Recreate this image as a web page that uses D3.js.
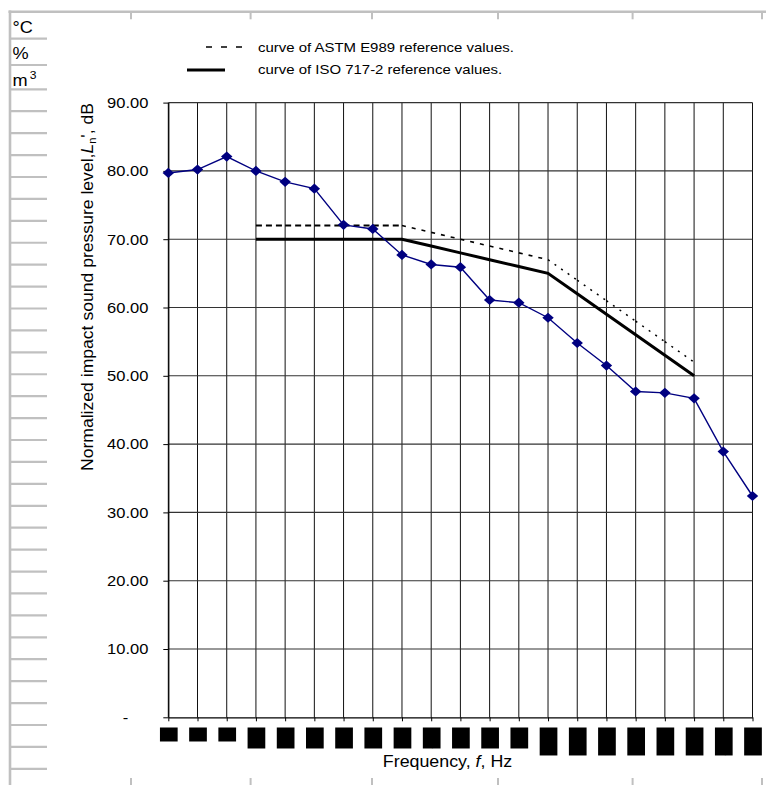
<!DOCTYPE html>
<html>
<head>
<meta charset="utf-8">
<script src="https://cdn.jsdelivr.net/npm/d3@7"></script>
<style>
  html, body { margin: 0; padding: 0; background: #fff; }
  svg { display: block; font-family: "Liberation Sans", Arial, Helvetica, sans-serif; }
</style>
</head>
<body>
<svg id="chart" width="766" height="785"></svg>
<script>
// One-third octave band centre frequencies, Hz
const frequencies = ["50", "63", "80", "100", "125", "160", "200", "250", "315", "400",
                     "500", "630", "800", "1000", "1250", "1600", "2000", "2500", "3150", "4000", "5000"];
// Measured normalized impact sound pressure level L'n, dB
const measuredLn = [79.7, 80.2, 82.1, 80.0, 78.4, 77.4, 72.1, 71.5, 67.7, 66.3, 65.9,
                    61.1, 60.7, 58.5, 54.8, 51.5, 47.7, 47.5, 46.7, 38.9, 32.4];
// Shifted reference curves, 100 Hz to 3150 Hz
const referenceFrequencies = ["100", "125", "160", "200", "250", "315", "400", "500",
                              "630", "800", "1000", "1250", "1600", "2000", "2500", "3150"];
const isoReference  = [70, 70, 70, 70, 70, 70, 69, 68, 67, 66, 65, 62, 59, 56, 53, 50];
const astmReference = [72, 72, 72, 72, 72, 72, 71, 70, 69, 68, 67, 64, 61, 58, 55, 52];
// Value axis ticks
const yTickValues = [0, 10, 20, 30, 40, 50, 60, 70, 80, 90];
const legendLabels = ["curve of ASTM E989 reference values.", "curve of ISO 717-2 reference values."];

const SX = 1.1;   // horizontal glyph stretch used for every label
const svg = d3.select("#chart");

const x = d3.scalePoint().domain(frequencies).range([168.3, 752.5]);
const y = d3.scaleLinear().domain([0, 90]).range([717.3, 102.6]);

// text set with wide glyphs, optionally rotated
function wideText(parent, px, py, size, anchor, rotate) {
  const g = parent.append("g")
    .attr("transform", `translate(${px},${py})` + (rotate ? ` rotate(${rotate})` : "") + ` scale(${SX},1)`);
  return g.append("text")
    .attr("font-size", size)
    .attr("text-anchor", anchor)
    .attr("fill", "#000");
}

// ---- worksheet frame round the chart ----
const frame = svg.append("g").attr("stroke", "#c0c0c0").attr("fill", "none");
frame.append("line").attr("x1", 8.5).attr("x2", 766).attr("y1", 11.7).attr("y2", 11.7).attr("stroke-width", 2.6);
frame.append("line").attr("x1", 10).attr("x2", 10).attr("y1", 10.4).attr("y2", 785).attr("stroke-width", 2.6);
const rowLines = [38.7, 65].concat(d3.range(32).map(k => 89.3 + k * 21.92));
frame.selectAll(".row").data(rowLines).join("line")
  .attr("x1", 10).attr("x2", 47).attr("y1", d => d).attr("y2", d => d).attr("stroke-width", 2.2);
const columnMarks = [131, 250.6, 372, 498, 632.6, 762];
frame.selectAll(".colTop").data(columnMarks).join("line")
  .attr("x1", d => d).attr("x2", d => d).attr("y1", 11.7).attr("y2", 19.3).attr("stroke-width", 2);
frame.selectAll(".colBottom").data(columnMarks).join("line")
  .attr("x1", d => d).attr("x2", d => d).attr("y1", 778).attr("y2", 785).attr("stroke-width", 2);

// unit cells
wideText(svg, 12.5, 33, 16.5, "start").text("°C");
wideText(svg, 12.5, 59, 16.5, "start").text("%");
const m3 = wideText(svg, 12.5, 86, 16.5, "start");
m3.append("tspan").text("m");
m3.append("tspan").attr("font-size", 11).attr("dy", -7).attr("dx", 2).text("3");

// ---- gridlines ----
const grid = svg.append("g").attr("fill", "none");
grid.selectAll(".v").data(frequencies).join("line")
  .attr("x1", d => x(d)).attr("x2", d => x(d))
  .attr("y1", y(90)).attr("y2", y(0))
  .attr("stroke", "#111").attr("stroke-width", 1);
grid.selectAll(".h").data(yTickValues.filter(v => v > 0)).join("line")
  .attr("x1", x.range()[0]).attr("x2", x.range()[1])
  .attr("y1", d => y(d)).attr("y2", d => y(d))
  .attr("stroke", "#333").attr("stroke-width", 1.1);

// ---- value axis ----
const yAxis = svg.append("g")
  .attr("transform", `translate(${x.range()[0]},0)`)
  .call(d3.axisLeft(y).tickValues(yTickValues).tickSize(5).tickSizeOuter(0)
    .tickFormat(d => d === 0 ? "-" : d3.format(".2f")(d)));
yAxis.attr("font-family", null).attr("font-size", 15);
yAxis.select(".domain").attr("stroke", "#000").attr("stroke-width", 1.2);
yAxis.selectAll(".tick line").attr("stroke", "#000");
yAxis.selectAll(".tick text")
  .attr("x", 0)
  .attr("fill", "#000")
  .attr("transform", d => `translate(${d === 0 ? -40 : -20},0) scale(${SX},1)`);

// ---- category axis: labels sit in solid black cells ----
const xAxis = svg.append("g")
  .attr("transform", `translate(0,${y(0)})`)
  .call(d3.axisBottom(x).tickSize(4).tickSizeOuter(0));
xAxis.attr("font-family", null).attr("font-size", 11.45);
xAxis.select(".domain").attr("stroke", "#000").attr("stroke-width", 1.2);
xAxis.selectAll(".tick line").attr("stroke", "#000");
const cellTop = 10.2, cellWidth = 17.7;
xAxis.selectAll(".tick").each(function () {
  const tick = d3.select(this);
  const label = tick.select("text")
    .attr("x", 0).attr("y", 0).attr("dy", null)
    .attr("text-anchor", "end")
    .attr("dominant-baseline", "central")
    .attr("fill", "#000")
    .attr("transform", `translate(0,${cellTop}) rotate(-90) scale(${SX},1)`);
  const len = label.node().getComputedTextLength() * SX;
  tick.insert("rect", "text")
    .attr("x", -cellWidth / 2).attr("y", cellTop)
    .attr("width", cellWidth).attr("height", len)
    .attr("fill", "#000");
});

// ---- ASTM E989 reference curve, dash pattern by segment steepness ----
const astmSegments = d3.pairs(astmReference.map((v, i) => ({ f: referenceFrequencies[i], v })));
const dashBySlope = s => s === 0 ? { dash: "6,4", w: 2 } : (s > -2 ? { dash: "4,6", w: 1.6 } : { dash: "2,6", w: 1.5 });
svg.append("g").selectAll("line").data(astmSegments).join("line")
  .attr("x1", d => x(d[0].f)).attr("y1", d => y(d[0].v))
  .attr("x2", d => x(d[1].f)).attr("y2", d => y(d[1].v))
  .attr("stroke", "#000")
  .attr("stroke-width", d => dashBySlope(d[1].v - d[0].v).w)
  .attr("stroke-dasharray", d => dashBySlope(d[1].v - d[0].v).dash);

// ---- ISO 717-2 reference curve ----
svg.append("path")
  .datum(isoReference)
  .attr("fill", "none").attr("stroke", "#000").attr("stroke-width", 3)
  .attr("d", d3.line().x((d, i) => x(referenceFrequencies[i])).y(d => y(d)));

// ---- measured curve ----
svg.append("path")
  .datum(measuredLn)
  .attr("fill", "none").attr("stroke", "#000080").attr("stroke-width", 1.4)
  .attr("d", d3.line().x((d, i) => x(frequencies[i])).y(d => y(d)));
const diamond = d3.symbol().type(d3.symbolSquare).size(52);
svg.append("g").selectAll("path").data(measuredLn).join("path")
  .attr("d", diamond)
  .attr("fill", "#000080")
  .attr("transform", (d, i) => `translate(${x(frequencies[i])},${y(d)}) scale(1.12,1) rotate(45)`);

// ---- legend ----
const legend = svg.append("g");
legend.append("line").attr("x1", 206).attr("x2", 242).attr("y1", 47).attr("y2", 47)
  .attr("stroke", "#000").attr("stroke-width", 1.4).attr("stroke-dasharray", "6,9");
legend.append("line").attr("x1", 187).attr("x2", 225).attr("y1", 70).attr("y2", 70)
  .attr("stroke", "#000").attr("stroke-width", 3);
wideText(legend, 258, 51.5, 13.6, "start").text(legendLabels[0]);
wideText(legend, 258, 74, 13.6, "start").text(legendLabels[1]);

// ---- axis titles ----
const yTitle = wideText(svg, 92.5, 103, 16, "end", -90);
yTitle.append("tspan").text("Normalized impact sound pressure level,");
yTitle.append("tspan").attr("font-style", "italic").text("L");
yTitle.append("tspan").attr("font-size", 10).attr("dy", 3).text("n");
yTitle.append("tspan").attr("dy", -3).text("', dB");

const xTitle = wideText(svg, 447.5, 767, 16.2, "middle");
xTitle.append("tspan").text("Frequency, ");
xTitle.append("tspan").attr("font-style", "italic").text("f");
xTitle.append("tspan").text(", Hz");
</script>
</body>
</html>
